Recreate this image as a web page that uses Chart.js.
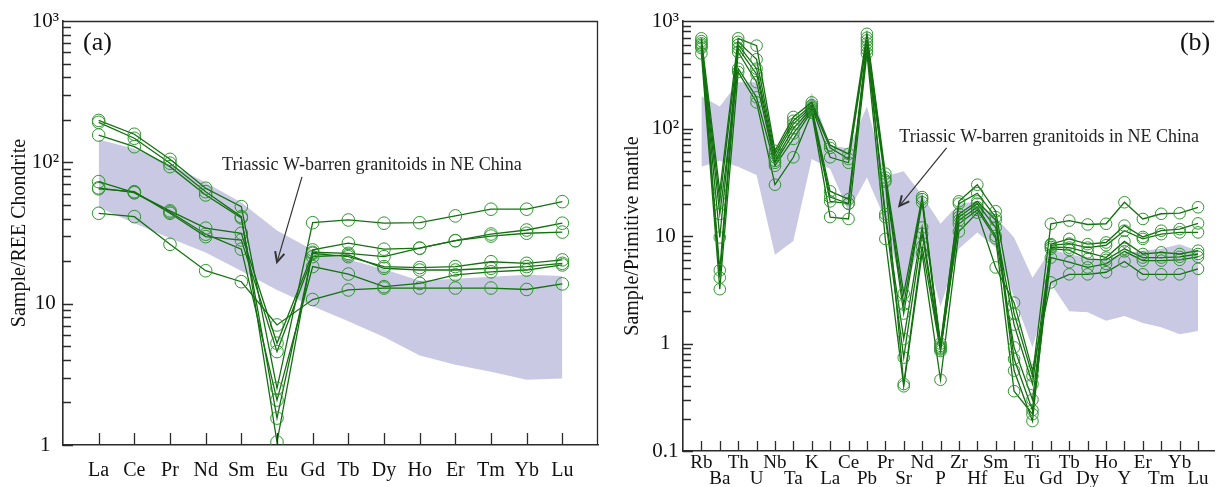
<!DOCTYPE html>
<html>
<head>
<meta charset="utf-8">
<script src="https://cdn.jsdelivr.net/npm/chart.js@4.4.1/dist/chart.umd.min.js"></script>
<style>
  html, body { margin: 0; padding: 0; background: #fff; }
  #wrap { position: relative; width: 1221px; height: 487px; overflow: hidden; }
  canvas { position: absolute; top: 0; }
  #chartA { left: 0; }
  #chartB { left: 612px; }
</style>
</head>
<body>
<div id="wrap">
  <canvas id="chartA" width="612" height="487"></canvas>
  <canvas id="chartB" width="609" height="487"></canvas>
</div>
<script>
// --- Data: (a) chondrite-normalised REE ---
const reeNames = ['La', 'Ce', 'Pr', 'Nd', 'Sm', 'Eu', 'Gd', 'Tb', 'Dy', 'Ho', 'Er', 'Tm', 'Yb', 'Lu'];
const reeBandHigh = [145, 125, 97, 72, 52, 33, 24, 20.5, 17.5, 14.5, 15, 15.5, 16, 15.7];
const reeBandLow = [48, 37, 29, 23, 17, 12.5, 9.6, 7.5, 5.8, 4.3, 3.7, 3.3, 2.9, 2.95];
const ree1 = [198, 158, 105, 65.6, 48.6, 2.52, 37.4, 39.1, 37.1, 37.4, 41.8, 46.6, 46.6, 52.7];
const ree2 = [192, 148, 98.6, 62, 41.3, 1.05, 24.0, 26.8, 24.3, 24.7, 27.9, 31.1, 33.2, 37.1];
const ree3 = [156, 129, 93.2, 58.8, 40.4, 1.55, 23.1, 22.7, 21.5, 24.7, 27.9, 30.1, 31.5, 32.1];
const ree4 = [73, 61, 45.3, 34.2, 31.5, 5.25, 22.7, 21.5, 18.3, 18.0, 18.3, 19.8, 19.3, 20.4];
const ree5 = [65, 62, 43.6, 29.8, 28.2, 4.58, 21.5, 22.1, 17.8, 17.3, 17.3, 17.8, 18.3, 19.3];
const ree6 = [66, 61, 44.5, 31, 24.3, 2.08, 18.3, 16.2, 13.2, 13.9, 16.0, 16.8, 17.3, 18.8];
const ree7 = [43.6, 41.3, 26.3, 17.1, 14.3, 7.07, 10.7, 12.5, 12.9, 12.9, 12.9, 12.9, 12.6, 13.8];
const reeTicks = [1, 10, 100, 1000];

// --- Data: (b) primitive-mantle-normalised trace elements ---
const pmNames = ['Rb', 'Ba', 'Th', 'U', 'Nb', 'Ta', 'K', 'La', 'Ce', 'Pb', 'Pr', 'Sr', 'Nd', 'P',
  'Zr', 'Hf', 'Sm', 'Eu', 'Ti', 'Gd', 'Tb', 'Dy', 'Ho', 'Y', 'Er', 'Tm', 'Yb', 'Lu'];
const pmBandHigh = [200, 160, 270, 270, 55, 80, 215, 70, 65, 160, 36, 40, 24, 13, 20, 21, 15, 9.7, 4.1,
  7.5, 6.8, 6.2, 6.0, 7.0, 7.3, 7.6, 8.4, 7.3];
const pmBandLow = [44, 50, 44, 37, 6.7, 9, 52, 42, 17, 35, 14, 2.7, 10, 2.2, 7.6, 10.8, 7.8, 2.7, 0.92,
  3.6, 2.0, 1.95, 1.63, 1.8, 1.55, 1.42, 1.22, 1.31];
const pm1 = [690, 26, 690, 590, 62, 128, 175, 70, 58, 760, 38, 2.9, 23, 1.0, 21, 30, 17, 1.9, 0.50,
  13, 13.9, 12.8, 13, 20.6, 14.4, 16.1, 16.3, 18.5];
const pm2 = [650, 4.8, 640, 440, 58, 118, 165, 66, 52, 700, 35, 2.3, 22, 0.95, 20, 25, 15, 0.72, 0.24,
  8.4, 9.4, 8.4, 8.7, 12.5, 9.8, 11.2, 11.6, 13.1];
const pm3 = [620, 21, 600, 360, 54, 110, 160, 54, 48, 660, 33, 1.9, 20.6, 0.92, 16, 21, 14, 0.56, 0.19,
  8.2, 8.5, 7.8, 8.2, 11.2, 9.4, 10.4, 10.8, 10.8];
const pm4 = [600, 9.7, 560, 320, 50, 100, 155, 26, 22, 620, 16, 1.1, 12, 0.9, 15, 20, 12, 1.5, 0.42,
  7.9, 7.8, 7.05, 6.3, 8.9, 6.8, 7.05, 6.8, 7.3];
const pm5 = [580, 4.1, 515, 270, 48, 90, 150, 23, 20, 580, 15, 0.74, 10.5, 0.88, 14, 18.5, 10, 0.92, 0.30,
  7.6, 7.4, 6.1, 6.0, 7.6, 6.3, 6.3, 6.4, 6.8];
const pm6 = [560, 16, 360, 195, 45, 80, 145, 21, 20, 540, 32, 0.42, 8, 0.85, 13, 17.5, 9.5, 0.36, 0.22,
  6.3, 5.7, 5.1, 5.5, 7.2, 5.9, 5.9, 6.0, 6.4];
const pm7 = [500, 3.2, 335, 175, 30, 54, 140, 15, 14.4, 500, 9.4, 0.40, 6.9, 0.46, 11, 16.5, 5.1, 2.4, 0.56,
  3.7, 4.4, 4.4, 4.6, 5.8, 4.4, 4.4, 4.4, 4.95];
const pmTicks = [0.1, 1, 10, 100, 1000];

const tickText = { 0.1: '0.1', 1: '1', 10: '10', 100: '10\u00B2', 1000: '10\u00B3' };

// --- Style ---
const SERIF = "'Liberation Serif', 'DejaVu Serif', serif";
const LINE_GREEN = '#13700f';
const DOT_GREEN = '#2f962f';
const BAND = '#c9c9e3';
const INK = '#2b2b2b';

function toPoints(values) {
  return values.map((v, i) => ({ x: i, y: v }));
}

function sampleSet(values, radius) {
  return {
    data: toPoints(values),
    borderColor: LINE_GREEN,
    borderWidth: 1.3,
    pointRadius: radius,
    pointBorderColor: DOT_GREEN,
    pointBackgroundColor: 'rgba(0,0,0,0)',
    pointBorderWidth: 1,
    tension: 0,
    fill: false,
    order: 1
  };
}

function bandSet(values, fill) {
  return {
    data: toPoints(values),
    borderWidth: 0,
    borderColor: 'rgba(0,0,0,0)',
    backgroundColor: BAND,
    pointRadius: 0,
    tension: 0,
    fill: fill,
    order: 5
  };
}

// ticks inside the frame, frame lines, note + arrow, panel letter
const axisDecor = {
  id: 'axisDecor',
  afterDraw(chart, args, o) {
    const { ctx, chartArea: a } = chart;
    const xs = chart.scales.x, ys = chart.scales.y;
    ctx.save();
    ctx.strokeStyle = INK;
    ctx.lineWidth = 1.3;
    ctx.beginPath();
    ctx.moveTo(a.left, a.top + 0.5);
    ctx.lineTo(a.right, a.top + 0.5);
    if (o.rightFrame) {
      ctx.moveTo(a.right - 0.5, a.top);
      ctx.lineTo(a.right - 0.5, a.bottom);
    }
    xs.ticks.forEach(t => {
      const px = Math.round(xs.getPixelForValue(t.value)) + 0.5;
      ctx.moveTo(px, a.bottom);
      ctx.lineTo(px, a.bottom - o.xTick);
    });
    const lo = Math.round(Math.log10(ys.min));
    const hi = Math.round(Math.log10(ys.max));
    for (let d = lo; d <= hi; d++) {
      for (let k = 1; k <= 9; k++) {
        const v = k * Math.pow(10, d);
        if (v > ys.max * 1.0001) break;
        const py = Math.round(ys.getPixelForValue(v)) + 0.5;
        ctx.moveTo(a.left, py);
        ctx.lineTo(a.left + (k === 1 ? o.majorTick : o.minorTick), py);
      }
    }
    ctx.stroke();

    // note text
    ctx.fillStyle = '#222';
    ctx.font = '18px ' + SERIF;
    ctx.textAlign = 'left';
    ctx.textBaseline = 'middle';
    ctx.fillText(o.note.text, xs.getPixelForValue(o.note.x), ys.getPixelForValue(o.note.y));

    // arrow
    const x1 = xs.getPixelForValue(o.arrow.from[0]), y1 = ys.getPixelForValue(o.arrow.from[1]);
    const x2 = xs.getPixelForValue(o.arrow.to[0]), y2 = ys.getPixelForValue(o.arrow.to[1]);
    const ang = Math.atan2(y2 - y1, x2 - x1);
    ctx.strokeStyle = '#333';
    ctx.lineWidth = 1.2;
    ctx.beginPath();
    ctx.moveTo(x1, y1);
    ctx.lineTo(x2, y2);
    ctx.stroke();
    ctx.lineWidth = 2;
    ctx.beginPath();
    ctx.moveTo(x2 - 11 * Math.cos(ang - 0.45), y2 - 11 * Math.sin(ang - 0.45));
    ctx.lineTo(x2, y2);
    ctx.lineTo(x2 - 11 * Math.cos(ang + 0.45), y2 - 11 * Math.sin(ang + 0.45));
    ctx.stroke();

    // panel letter
    ctx.fillStyle = '#111';
    ctx.font = '26px ' + SERIF;
    ctx.textAlign = o.letter.align;
    const lx = o.letter.align === 'left' ? a.left + o.letter.dx : a.right - o.letter.dx;
    ctx.fillText(o.letter.text, lx, a.top + o.letter.dy);
    ctx.restore();
  }
};

function makeChart(canvasId, cfg) {
  const datasets = [bandSet(cfg.bandHigh, '+1'), bandSet(cfg.bandLow, false)]
    .concat(cfg.samples.map(s => sampleSet(s, cfg.radius)));
  return new Chart(document.getElementById(canvasId), {
    type: 'line',
    data: { datasets: datasets },
    options: {
      responsive: false,
      animation: false,
      layout: { padding: cfg.padding },
      plugins: {
        legend: { display: false },
        tooltip: { enabled: false },
        axisDecor: cfg.decor
      },
      scales: {
        x: {
          type: 'linear',
          bounds: 'data',
          min: -1,
          max: cfg.xMax,
          grid: { display: false, drawTicks: false },
          border: { display: true, color: INK, width: 1.6 },
          afterBuildTicks: s => { s.ticks = cfg.names.map((_, i) => ({ value: i })); },
          afterFit: s => { s.height = cfg.xAxisH; },
          ticks: {
            autoSkip: false,
            maxRotation: 0,
            padding: cfg.xPad,
            color: '#111',
            font: { family: SERIF, size: cfg.xFont, lineHeight: cfg.xLine },
            callback: cfg.xLabel
          }
        },
        y: {
          type: 'logarithmic',
          bounds: 'data',
          min: cfg.yTicks[0],
          max: cfg.yTicks[cfg.yTicks.length - 1],
          grid: { display: false, drawTicks: false },
          border: { display: true, color: INK, width: 1.6 },
          afterBuildTicks: s => { s.ticks = cfg.yTicks.map(v => ({ value: v, major: true })); },
          afterFit: s => { s.width = cfg.yAxisW; },
          ticks: {
            padding: 4,
            crossAlign: 'center',
            color: '#111',
            font: { family: SERIF, size: 21 },
            callback: v => tickText[v]
          },
          title: {
            display: true,
            text: cfg.yTitle,
            color: '#111',
            font: { family: SERIF, size: 20 },
            padding: { top: cfg.titlePad, bottom: 0 }
          }
        }
      }
    },
    plugins: [axisDecor]
  });
}

makeChart('chartA', {
  names: reeNames,
  bandHigh: reeBandHigh,
  bandLow: reeBandLow,
  samples: [ree1, ree2, ree3, ree4, ree5, ree6, ree7],
  radius: 6.3,
  padding: { left: 0, right: 14, top: 21, bottom: 0 },
  xMax: 14,
  xAxisH: 42,
  xPad: 14,
  xFont: 20,
  xLine: 1.2,
  xLabel: v => reeNames[v],
  yTicks: reeTicks,
  yAxisW: 63,
  yTitle: 'Sample/REE Chondrite',
  titlePad: 8,
  decor: {
    rightFrame: true,
    xTick: 12,
    majorTick: 10,
    minorTick: 8,
    note: { text: 'Triassic W-barren granitoids in NE China', x: 3.46, y: 96 },
    arrow: { from: [5.7, 79], to: [5.0, 19.7] },
    letter: { text: '(a)', align: 'left', dx: 20, dy: 22 }
  }
});

makeChart('chartB', {
  names: pmNames,
  bandHigh: pmBandHigh,
  bandLow: pmBandLow,
  samples: [pm1, pm2, pm3, pm4, pm5, pm6, pm7],
  radius: 5.8,
  padding: { left: 0, right: 0, top: 21, bottom: 0 },
  xMax: 27.88,
  xAxisH: 36,
  xPad: 4,
  xFont: 19,
  xLine: 0.85,
  xLabel: v => (v % 2 === 0 ? [pmNames[v], ''] : ['', pmNames[v]]),
  yTicks: pmTicks,
  yAxisW: 71,
  yTitle: 'Sample/Primitive mantle',
  titlePad: 9,
  decor: {
    rightFrame: false,
    xTick: 10,
    majorTick: 10,
    minorTick: 8,
    note: { text: 'Triassic W-barren granitoids in NE China', x: 10.76, y: 83 },
    arrow: { from: [13.33, 66], to: [10.76, 19] },
    letter: { text: '(b)', align: 'right', dx: 4, dy: 22 }
  }
});
</script>
</body>
</html>
